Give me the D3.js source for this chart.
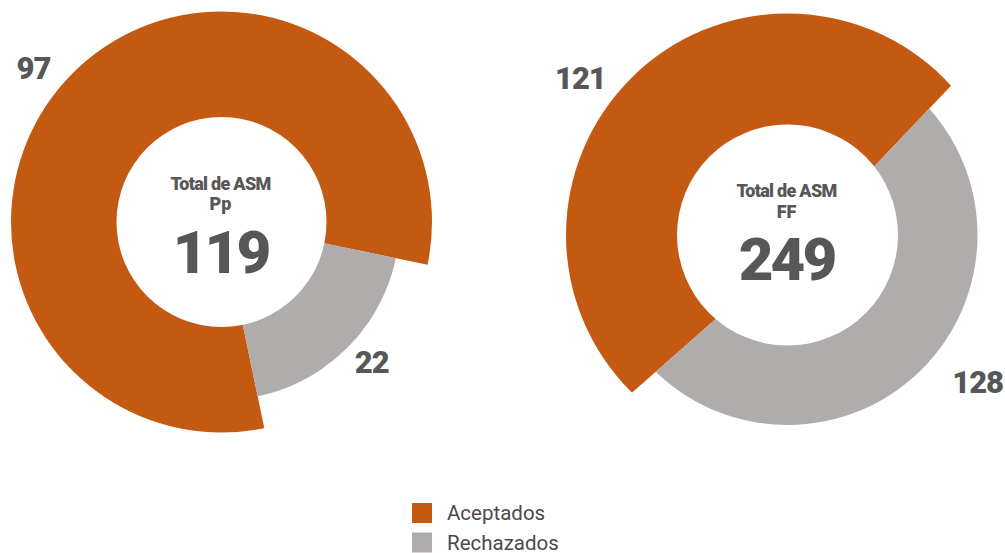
<!DOCTYPE html>
<html>
<head>
<meta charset="utf-8">
<script src="https://cdn.jsdelivr.net/npm/d3@7"></script>
<style>
  html, body { margin: 0; padding: 0; background: #fff; }
  svg { display: block; font-family: Roboto, "Noto Sans", sans-serif; }
</style>
</head>
<body>
<svg id="chart" width="1005" height="553"></svg>
<script>
// data
var categories = ["Aceptados", "Rechazados"];
var chartNames = ["Pp", "FF"];
var valuesPp = [97, 22];
var valuesFF = [121, 128];

var colors = ["#c45a12", "#afacab"];
var textColor = "#575757";

var svg = d3.select("#chart");
var toRad = Math.PI / 180;

// layout for each donut (positions in px, angles in degrees)
var layouts = [
  { name: chartNames[0], values: valuesPp, cx: 221.5, cy: 222, inner: 105,
    radii: [210.5, 178], greyMid: 135, pivot: 0,
    labels: [[309.3, 243], [132.9, 205]],
    titleY: 190, subY: 210, totalY: 273 },
  { name: chartNames[1], values: valuesFF, cx: 787.5, cy: 235, inner: 110.5,
    radii: [221.5, 190], greyMid: 136.1, pivot: 15.6,
    labels: [[307.2, 260], [127.6, 240]],
    titleY: 197, subY: 218, totalY: 280 }
];

layouts.forEach(function (L, k) {
  var total = d3.sum(L.values);
  var greyShare = L.values[1] / total;
  var start = L.greyMid * toRad + greyShare * Math.PI;

  var pie = d3.pie()
    .sort(null)
    .startAngle(start)
    .endAngle(start + 2 * Math.PI);

  var slices = pie(L.values);

  var wedge = d3.arc().innerRadius(0).outerRadius(420);

  // split point is nudged toward the grey slice
  var px = L.cx + L.pivot * Math.sin(L.greyMid * toRad),
    py = L.cy - L.pivot * Math.cos(L.greyMid * toRad);

  var defs = svg.append("defs");
  var g = svg.append("g").attr("class", "donut");

  slices.forEach(function (s, i) {
    var id = "clip-" + k + "-" + i;
    defs.append("clipPath")
      .attr("id", id)
      .append("circle")
      .attr("cx", L.cx)
      .attr("cy", L.cy)
      .attr("r", L.radii[i]);

    g.append("g")
      .attr("clip-path", "url(#" + id + ")")
      .append("path")
      .attr("transform", "translate(" + px + "," + py + ")")
      .attr("d", wedge(s))
      .attr("fill", colors[i]);
  });

  g.append("circle")
    .attr("cx", L.cx)
    .attr("cy", L.cy)
    .attr("r", L.inner)
    .attr("fill", "#fff");

  // value labels outside the ring
  slices.forEach(function (s, i) {
    var a = L.labels[i][0] * toRad, r = L.labels[i][1];
    g.append("text")
      .attr("x", L.cx + r * Math.sin(a))
      .attr("y", L.cy - r * Math.cos(a))
      .attr("dy", "0.36em")
      .attr("text-anchor", "middle")
      .attr("font-size", 31)
      .attr("font-weight", 900)
      .attr("letter-spacing", -1)
      .attr("fill", textColor)
      .text(s.data);
  });

  // centre text
  g.append("text")
    .attr("x", L.cx - 1)
    .attr("y", L.titleY)
    .attr("text-anchor", "middle")
    .attr("font-size", 18)
    .attr("font-weight", 900)
    .attr("letter-spacing", -0.7)
    .attr("fill", textColor)
    .text("Total de ASM");

  g.append("text")
    .attr("x", L.cx - 1)
    .attr("y", L.subY)
    .attr("text-anchor", "middle")
    .attr("font-size", 18)
    .attr("font-weight", 900)
    .attr("fill", textColor)
    .text(L.name);

  g.append("text")
    .attr("x", L.cx - 1)
    .attr("y", L.totalY)
    .attr("text-anchor", "middle")
    .attr("font-size", 60)
    .attr("font-weight", 900)
    .attr("letter-spacing", -3)
    .attr("fill", textColor)
    .text(total);
});

// legend
var legend = svg.append("g").attr("transform", "translate(412,503)");

categories.forEach(function (c, i) {
  var row = legend.append("g").attr("transform", "translate(0," + (i * 29.5) + ")");
  row.append("rect")
    .attr("width", 20)
    .attr("height", 20)
    .attr("fill", colors[i]);
  row.append("text")
    .attr("x", 35)
    .attr("y", 17)
    .attr("font-size", 20.5)
    .attr("fill", "#4a4a4a")
    .text(c);
});
</script>
</body>
</html>
